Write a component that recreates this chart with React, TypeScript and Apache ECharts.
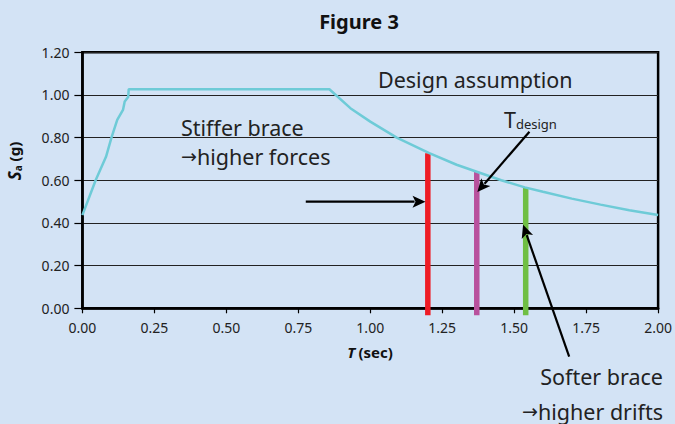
import React, { useEffect, useRef } from "react";
import * as echarts from "echarts";

const curveT = [0, 0.046, 0.082, 0.101, 0.121, 0.141, 0.147, 0.159, 0.161, 0.858, 0.931, 1.0, 1.092, 1.205, 1.3, 1.37, 1.455, 1.537, 1.6, 1.7, 1.8, 1.9, 2.0];
const curveSa = [0.437, 0.6, 0.71, 0.8, 0.883, 0.93, 0.969, 0.99, 1.027, 1.027, 0.938, 0.875, 0.8, 0.727, 0.673, 0.64, 0.6, 0.567, 0.546, 0.514, 0.486, 0.46, 0.437];

const barNames = ["Stiffer", "Design", "Softer"];
const barT = [1.2, 1.37, 1.54];
const barSa = [0.727, 0.64, 0.567];
const barColors = ["#ee1c25", "#b8519d", "#6fbf44"];

// annotation arrows in data coordinates [T, Sa]
const arrowFrom = [[0.776, 0.5], [1.553, 0.828], [1.691, -0.227]];
const arrowTo = [[1.192, 0.5], [1.372, 0.545], [1.531, 0.392]];

const yTicks = { min: 0, max: 1.2, interval: 0.2 };
const xTicks = { min: 0, max: 2, interval: 0.25 };

const FONT = "Noto Sans";
const ARROWFONT = "DejaVu Sans";

export default function App() {
  const ref = useRef<HTMLDivElement>(null);
  useEffect(() => {
    document.body.style.margin = "0";
    const chart = echarts.init(ref.current!, null, { renderer: "svg" });
    const texts: any[] = [
      { type: "text", x: 359, y: 21, style: { text: "Figure 3", font: `bold 20px ${FONT}`, fill: "#111", align: "center", verticalAlign: "middle" } },
      { type: "text", x: 378, y: 79, style: { text: "Design assumption", font: `21.5px ${FONT}`, fill: "#222", align: "left", verticalAlign: "middle" } },
      { type: "text", x: 181, y: 127, style: { text: "Stiffer brace", font: `21.5px ${FONT}`, fill: "#222", align: "left", verticalAlign: "middle" } },
      {
        type: "text", x: 181, y: 156,
        style: {
          text: "{a|→}{t|higher forces}", align: "left", verticalAlign: "middle",
          rich: {
            a: { fontSize: 19, fontFamily: ARROWFONT, fill: "#222" },
            t: { fontSize: 21.5, fontFamily: FONT, fill: "#222" },
          },
        },
      },
      {
        type: "text", x: 504, y: 118,
        style: {
          text: "{t|T}{s|design}", fill: "#222", align: "left", verticalAlign: "middle",
          rich: {
            t: { fontSize: 21.5, fontFamily: FONT, fill: "#222", verticalAlign: "bottom" },
            s: { fontSize: 13, fontFamily: FONT, fill: "#222", padding: [12, 0, 0, 0] },
          },
        },
      },
      { type: "text", x: 663, y: 376, style: { text: "Softer brace", font: `21.5px ${FONT}`, fill: "#222", align: "right", verticalAlign: "middle" } },
      {
        type: "text", x: 663, y: 411,
        style: {
          text: "{a|→}{t|higher drifts}", align: "right", verticalAlign: "middle",
          rich: {
            a: { fontSize: 19, fontFamily: ARROWFONT, fill: "#222" },
            t: { fontSize: 21.5, fontFamily: FONT, fill: "#222" },
          },
        },
      },
      {
        type: "text", x: 370, y: 352,
        style: {
          text: "{i|T} {b|(sec)}", align: "center", verticalAlign: "middle",
          rich: {
            i: { fontSize: 15, fontWeight: "bold", fontStyle: "italic", fontFamily: FONT, fill: "#111" },
            b: { fontSize: 15, fontWeight: "bold", fontFamily: FONT, fill: "#111" },
          },
        },
      },
      {
        type: "text", x: 14, y: 161, rotation: Math.PI / 2,
        style: {
          text: "{i|S}{s|a}{b| (g)}", align: "center", verticalAlign: "middle",
          rich: {
            i: { fontSize: 17, fontWeight: "bold", fontStyle: "italic", fontFamily: FONT, fill: "#111" },
            s: { fontSize: 10, fontWeight: "bold", fontFamily: FONT, fill: "#111", padding: [8, 0, 0, 0] },
            b: { fontSize: 15, fontWeight: "bold", fontFamily: FONT, fill: "#111" },
          },
        },
      },
    ];
    chart.setOption({
      animation: false,
      backgroundColor: "#d3e3f5",
      textStyle: { fontFamily: FONT },
      grid: {
        left: 82.4,
        right: 14,
        top: 52.3,
        bottom: 115.7,
        show: true,
        borderColor: "#000",
        borderWidth: 2.5,
        backgroundColor: "transparent",
      },
      xAxis: {
        type: "value",
        min: xTicks.min,
        max: xTicks.max,
        interval: xTicks.interval,
        axisLine: { show: true, lineStyle: { color: "#000", width: 2.5 } },
        axisTick: { show: true, length: 5, lineStyle: { color: "#000", width: 1.2 } },
        axisLabel: { color: "#222", fontSize: 14, fontFamily: FONT, margin: 12, formatter: (v: number) => v.toFixed(2) },
        splitLine: { show: false },
      },
      yAxis: {
        type: "value",
        min: yTicks.min,
        max: yTicks.max,
        interval: yTicks.interval,
        axisLine: { show: true, lineStyle: { color: "#000", width: 2.5 } },
        axisTick: { show: true, length: 8, lineStyle: { color: "#000", width: 1.2 } },
        axisLabel: { color: "#222", fontSize: 14, fontFamily: FONT, margin: 13, formatter: (v: number) => v.toFixed(2) },
        splitLine: { show: true, lineStyle: { color: "#222", width: 1.2 } },
      },
      series: [
        {
          type: "custom",
          name: "periods",
          clip: false,
          z: 3,
          data: barT.map((t, i) => ({ name: barNames[i], value: [t, barSa[i]], itemStyle: { color: barColors[i] } })),
          renderItem: (params: any, api: any) => {
            const top = api.coord([api.value(0), api.value(1)]);
            const base = api.coord([api.value(0), 0]);
            return {
              type: "rect",
              shape: { x: top[0] - 2.75, y: top[1], width: 5.5, height: base[1] - top[1] + 7 },
              style: { fill: api.visual("color") },
            };
          },
        },
        {
          type: "line",
          name: "Design spectrum",
          clip: false,
          z: 4,
          showSymbol: false,
          symbol: "none",
          lineStyle: { color: "#6ecbd7", width: 2.5 },
          data: curveT.map((t, i) => [t, curveSa[i]]),
        },
      ],
      graphic: texts,
    });

    // arrows placed through the chart's own scales
    const arrows: any[] = [];
    arrowFrom.forEach((f, i) => {
      const p0 = chart.convertToPixel({ gridIndex: 0 }, f) as number[];
      const p1 = chart.convertToPixel({ gridIndex: 0 }, arrowTo[i]) as number[];
      const dx = p1[0] - p0[0];
      const dy = p1[1] - p0[1];
      const len = Math.sqrt(dx * dx + dy * dy);
      const ux = dx / len;
      const uy = dy / len;
      const headL = 13;
      const headW = 6;
      const bx = p1[0] - ux * headL;
      const by = p1[1] - uy * headL;
      arrows.push({
        type: "line", z: 10,
        shape: { x1: p0[0], y1: p0[1], x2: bx + ux * 2, y2: by + uy * 2 },
        style: { stroke: "#000", lineWidth: 2.2 },
      });
      arrows.push({
        type: "polygon", z: 10,
        shape: { points: [[p1[0], p1[1]], [bx - uy * headW, by + ux * headW], [bx + ux * 3, by + uy * 3], [bx + uy * headW, by - ux * headW]] },
        style: { fill: "#000" },
      });
    });
    chart.setOption({ graphic: texts.concat(arrows) });
    return () => chart.dispose();
  }, []);
  return <div ref={ref} style={{ width: 675, height: 424 }} />;
}
